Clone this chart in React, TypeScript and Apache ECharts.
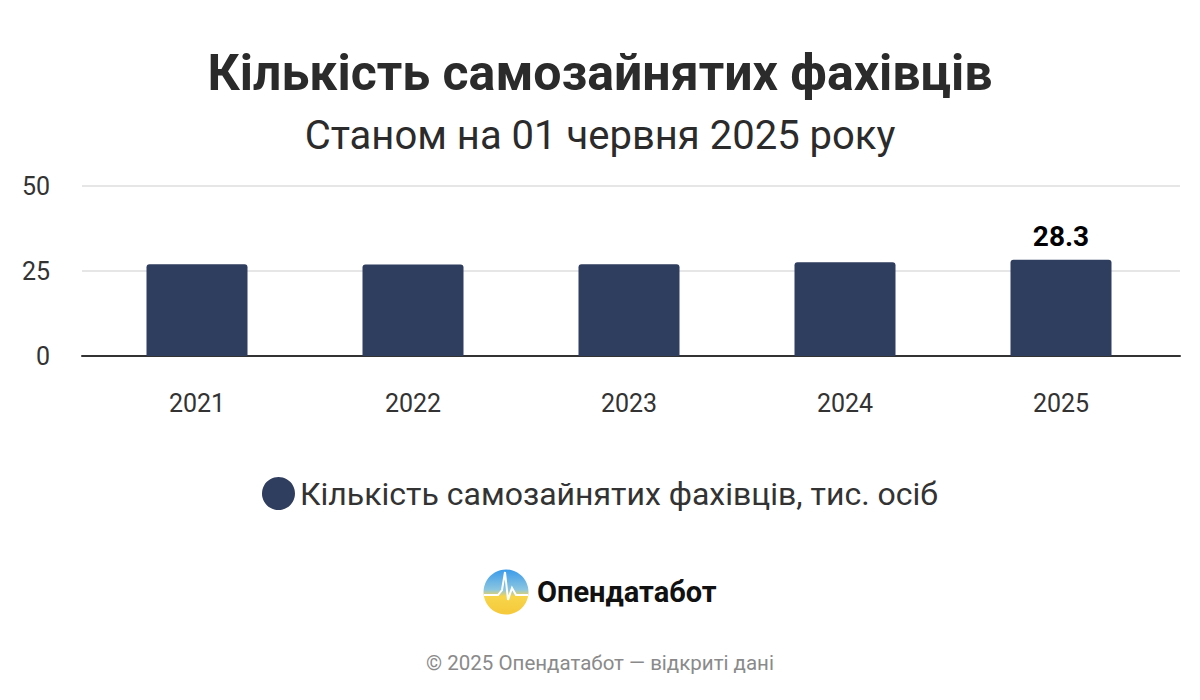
import React, { useEffect, useRef } from "react";
import * as echarts from "echarts";

const categories = ["2021", "2022", "2023", "2024", "2025"];
const values = [27.0, 26.9, 27.0, 27.6, 28.3];
const yTicks = [0, 25, 50];
const seriesName = "Кількість самозайнятих фахівців, тис. осіб";
const title = "Кількість самозайнятих фахівців";
const subtitle = "Станом на 01 червня 2025 року";
const brand = "Опендатабот";
const footer = "© 2025 Опендатабот — відкриті дані";

const FONT = "Roboto, 'Noto Sans', sans-serif";

export default function App() {
  const ref = useRef<HTMLDivElement>(null);
  useEffect(() => {
    document.body.style.margin = "0";
    const chart = echarts.init(ref.current!, null, { renderer: "svg" });
    const last = values.length - 1;
    const yMin = yTicks[0];
    const yMax = yTicks[yTicks.length - 1];
    chart.setOption({
      animation: false,
      backgroundColor: "#ffffff",
      textStyle: { fontFamily: FONT },
      title: [
        {
          text: title,
          left: "center",
          top: 43,
          textStyle: { fontSize: 50, fontWeight: "bold", color: "#2b2b2b", fontFamily: FONT },
        },
        {
          text: subtitle,
          left: "center",
          top: 110,
          textStyle: { fontSize: 40, fontWeight: "normal", color: "#2b2b2b", fontFamily: FONT },
        },
      ],
      legend: {
        data: [seriesName],
        left: "center",
        top: 472,
        icon: "circle",
        itemWidth: 33,
        itemHeight: 33,
        itemGap: 10,
        textStyle: { fontSize: 32, color: "#333333", fontFamily: FONT },
      },
      grid: [
        { left: 82, right: 20, top: 186, bottom: 344 },
        { left: 89, right: 31, top: 186, bottom: 344 },
      ],
      xAxis: [
        {
          gridIndex: 0,
          type: "value",
          min: 0,
          max: 1,
          axisLine: { show: true, onZero: false, lineStyle: { color: "#333333", width: 2 } },
          axisTick: { show: false },
          axisLabel: { show: false },
          splitLine: { show: false },
        },
        {
          gridIndex: 1,
          type: "category",
          data: categories,
          axisLine: { show: false },
          axisTick: { show: false },
          axisLabel: { fontSize: 25, color: "#333333", margin: 35, fontFamily: FONT },
        },
      ],
      yAxis: [
        {
          gridIndex: 0,
          type: "value",
          min: yMin,
          max: yMax,
          interval: 25,
          axisLine: { show: false },
          axisTick: { show: false },
          axisLabel: { fontSize: 25, color: "#333333", margin: 32, fontFamily: FONT },
          splitLine: { lineStyle: { color: "#e6e6e6", width: 2 } },
        },
        {
          gridIndex: 1,
          type: "value",
          min: yMin,
          max: yMax,
          interval: 25,
          axisLine: { show: false },
          axisTick: { show: false },
          axisLabel: { show: false },
          splitLine: { show: false },
        },
      ],
      series: [
        {
          name: seriesName,
          type: "bar",
          xAxisIndex: 1,
          yAxisIndex: 1,
          barWidth: 101,
          itemStyle: { color: "#2f3d5e", borderRadius: [3, 3, 0, 0] },
          data: values.map((v, i) => ({
            value: v,
            label: {
              show: i === last,
              position: "top",
              distance: 9,
              fontSize: 28,
              fontWeight: "bold",
              color: "#000000",
              fontFamily: FONT,
            },
          })),
        },
      ],
      graphic: [
        {
          type: "circle",
          shape: { cx: 506, cy: 592, r: 22.5 },
          style: {
            fill: new echarts.graphic.LinearGradient(0, 0, 0, 1, [
              { offset: 0, color: "#3a9bea" },
              { offset: 0.45, color: "#8cc6e0" },
              { offset: 0.6, color: "#f7d54a" },
              { offset: 1, color: "#f5c93a" },
            ]),
          },
        },
        {
          type: "polyline",
          shape: {
            points: [
              [484, 595], [498, 595], [502, 590], [505, 572], [508, 600], [512, 588], [516, 595], [528, 595],
            ],
          },
          style: { stroke: "#ffffff", lineWidth: 2, fill: null },
        },
        {
          type: "text",
          x: 537,
          y: 592,
          style: {
            text: brand,
            fontSize: 29,
            fontWeight: "bold",
            fill: "#111111",
            fontFamily: FONT,
            verticalAlign: "middle",
            align: "left",
          },
        },
        {
          type: "text",
          x: 600,
          y: 663,
          style: {
            text: footer,
            fontSize: 20.5,
            fill: "#8a8a8a",
            fontFamily: FONT,
            verticalAlign: "middle",
            align: "center",
          },
        },
      ],
    });
    return () => chart.dispose();
  }, []);
  return <div ref={ref} style={{ width: 1200, height: 700 }} />;
}
